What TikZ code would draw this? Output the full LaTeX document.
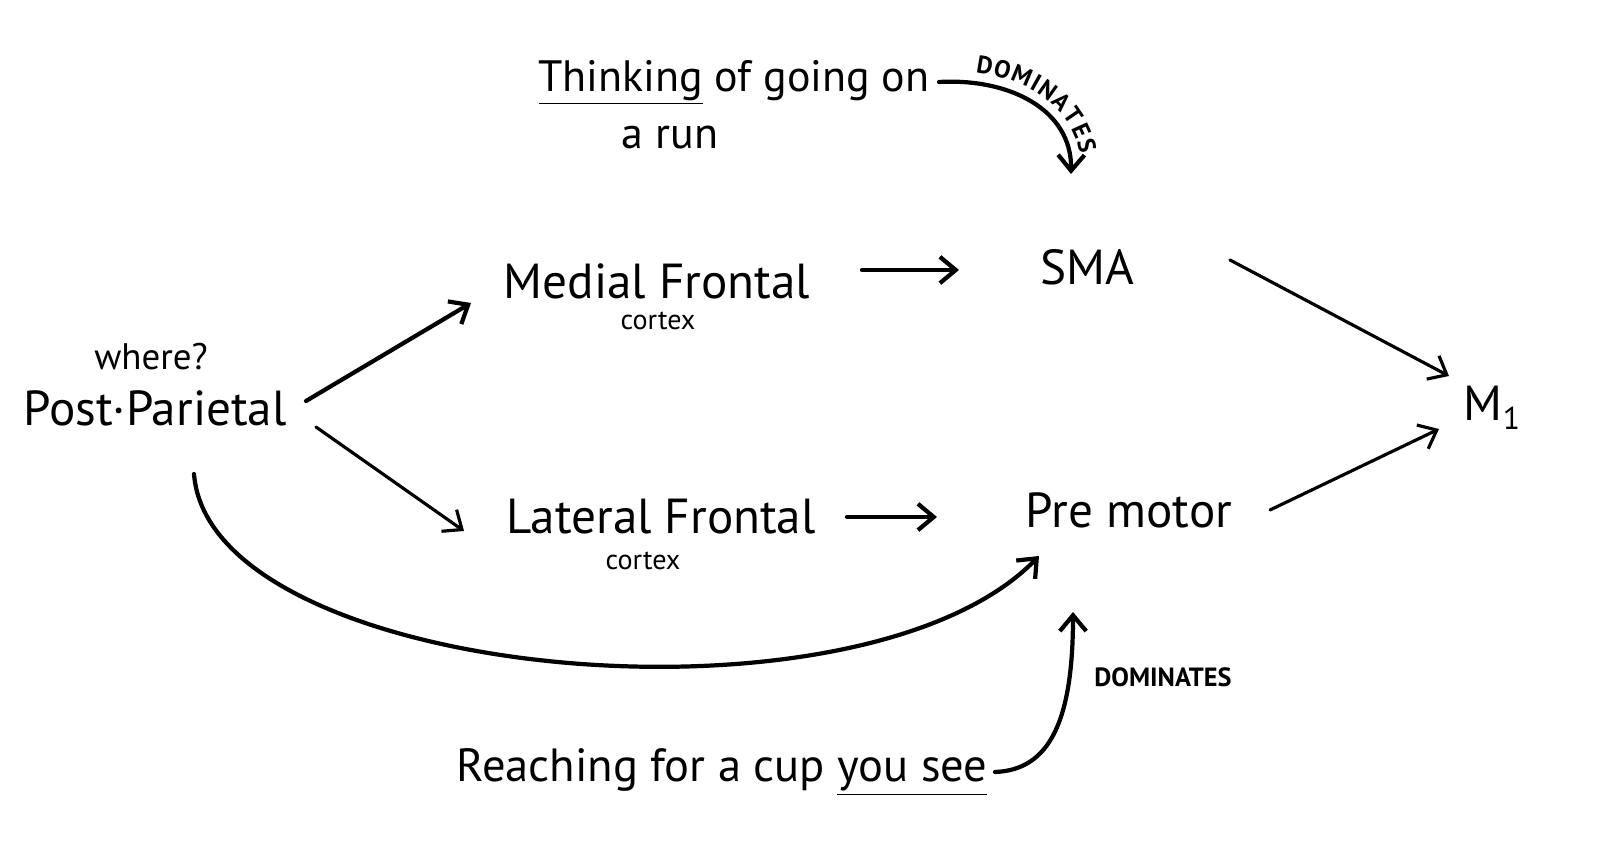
\documentclass[tikz,border=0pt]{standalone}
\usepackage{fontspec}
\setmainfont{PT Sans}
\usetikzlibrary{arrows.meta, calc, decorations.text}

\newcommand{\tagfont}{\fontsize{14}{15}\selectfont\bfseries}

\tikzset{
  lbl/.style={font=\fontsize{28}{30}\selectfont, inner sep=0pt},
  longlbl/.style={font=\fontsize{25}{27}\selectfont, inner sep=0pt},
  sub/.style={font=\fontsize{16}{18}\selectfont, inner sep=0pt},
  tag/.style={font=\fontsize{15}{16}\selectfont\bfseries, inner sep=0pt},
  arr/.style={-{Straight Barb[length=9pt,width=15pt]}, line width=1.8pt},
  heavy/.style={arr, line width=2.4pt},
}

\begin{document}
\begin{tikzpicture}[x=0.02cm, y=-0.02cm, line cap=round]

      \useasboundingbox[fill=white] (0,0) rectangle (1600,845);

      % 1. Regions
      \node[lbl] (post) at (155,408) {Post·Parietal};
      \node[sub, font=\fontsize{21}{22}\selectfont] (where) at (151,357) {where?};

      \node[lbl] (medial) at (657,281) {Medial Frontal};
      \node[sub] (mcortex) at (658,321) {cortex};

      \node[lbl] (lateral) at (661,517) {Lateral Frontal};
      \node[sub] (lcortex) at (643,561) {cortex};

      \node[lbl] (sma) at (1087,267) {SMA};
      \node[lbl] (premotor) at (1129,510) {Pre motor};
      \node[lbl] (m1) at (1492,408) {M\raisebox{-0.35ex}{\fontsize{18}{18}\selectfont 1}};

      % 2. Tasks
      \node[longlbl] (think) at (734,82) {\underline{Thinking} of going on};
      \node[longlbl] (run) at (670,138) {a run};
      \node[longlbl, font=\fontsize{26.5}{28}\selectfont] (reach) at (722,772) {Reaching for a cup \underline{you see}};
      \node[tag] (dom) at (1163,677) {DOMINATES};

      % 3. Connectors
      \draw[heavy] ($(post)+(151,-7)$) -- ($(medial)+(-186,22)$);
      \draw[arr] ($(post)+(161,19)$) -- ($(lateral)+(-197,14)$);
      \draw[heavy] ($(medial)+(205,-11)$) -- ($(sma)+(-128,3)$);
      \draw[heavy] ($(lateral)+(186,0)$) -- ($(premotor)+(-192,7)$);
      \draw[arr] ($(sma)+(143,-7)$) -- ($(m1)+(-43,-32)$);
      \draw[arr] ($(premotor)+(141,0)$) -- ($(m1)+(-53,21)$);

      % Post-Parietal straight to premotor
      \draw[heavy] ($(post)+(39,66)$) .. controls (210,680) and (860,740) .. ($(premotor)+(-90,46)$);

      % reaching dominates premotor
      \draw[heavy] ($(reach)+(273,0)$) .. controls (1050,770) and (1073,720) .. ($(premotor)+(-56,102)$);

      % thinking dominates SMA
      \draw[heavy] ($(think)+(205,0)$) .. controls (1010,78) and (1072,110) .. ($(sma)+(-16,-93)$);
      \path[decorate, decoration={text along path, text={|\tagfont|DOMINATES}, raise=6pt,
            text align={left indent=0.7cm}}]
        ($(think)+(205,0)$) .. controls (1010,78) and (1072,110) .. ($(sma)+(-16,-93)$);

\end{tikzpicture}
\end{document}
